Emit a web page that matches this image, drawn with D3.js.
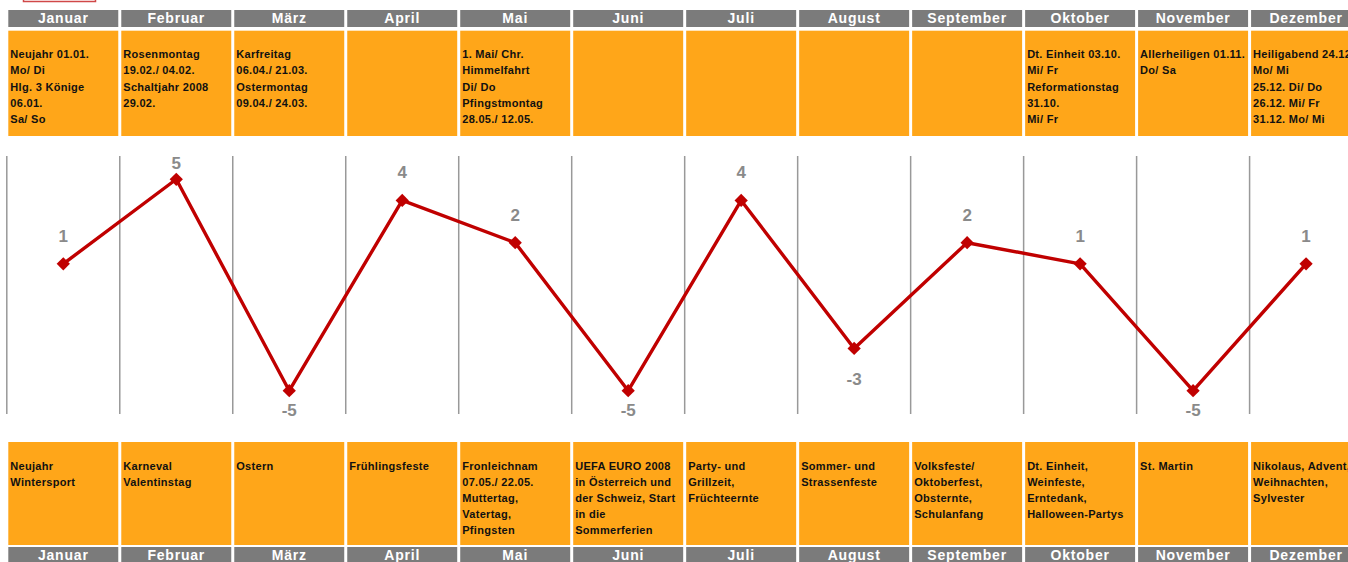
<!DOCTYPE html>
<html lang="de">
<head>
  <meta charset="UTF-8" />
  <title>Saisonkalender</title>
  <script src="https://cdn.jsdelivr.net/npm/d3@7/dist/d3.min.js"></script>
  <style>
    html, body { margin: 0; padding: 0; background: #fff; overflow: hidden; }
    svg { display: block; font-family: "Liberation Sans", Arial, sans-serif; }
  </style>
</head>
<body>
  <div id="chart"></div>
  <script>
    // Monate
    const months = ["Januar", "Februar", "März", "April", "Mai", "Juni",
      "Juli", "August", "September", "Oktober", "November", "Dezember"];

    // Werte der Kurve
    const values = [1, 5, -5, 4, 2, -5, 4, -3, 2, 1, -5, 1];

    // Feiertage (obere Kästen)
    const holidays = [
      ["Neujahr 01.01.", "Mo/ Di", "Hlg. 3 Könige", "06.01.", "Sa/ So"],
      ["Rosenmontag", "19.02./ 04.02.", "Schaltjahr 2008", "29.02."],
      ["Karfreitag", "06.04./ 21.03.", "Ostermontag", "09.04./ 24.03."],
      [],
      ["1. Mai/ Chr.", "Himmelfahrt", "Di/ Do", "Pfingstmontag", "28.05./ 12.05."],
      [],
      [],
      [],
      [],
      ["Dt. Einheit 03.10.", "Mi/ Fr", "Reformationstag", "31.10.", "Mi/ Fr"],
      ["Allerheiligen 01.11.", "Do/ Sa"],
      ["Heiligabend 24.12.", "Mo/ Mi", "25.12. Di/ Do", "26.12. Mi/ Fr", "31.12. Mo/ Mi"]
    ];

    // Anlässe (untere Kästen)
    const events = [
      ["Neujahr", "Wintersport"],
      ["Karneval", "Valentinstag"],
      ["Ostern"],
      ["Frühlingsfeste"],
      ["Fronleichnam", "07.05./ 22.05.", "Muttertag,", "Vatertag,", "Pfingsten"],
      ["UEFA EURO 2008", "in Österreich und", "der Schweiz, Start", "in die", "Sommerferien"],
      ["Party- und", "Grillzeit,", "Früchteernte"],
      ["Sommer- und", "Strassenfeste"],
      ["Volksfeste/", "Oktoberfest,", "Obsternte,", "Schulanfang"],
      ["Dt. Einheit,", "Weinfeste,", "Erntedank,", "Halloween-Partys"],
      ["St. Martin"],
      ["Nikolaus, Advent,", "Weihnachten,", "Sylvester"]
    ];

    const width = 1348, height = 562;
    const orange = "#FFA619", gray = "#7b7b7b", red = "#c00000";

    const svg = d3.select("#chart").append("svg")
      .attr("width", width).attr("height", height);

    const step = 112.73;
    const x = d3.scaleBand()
      .domain(months)
      .range([8.3, 8.3 + step * 12])
      .paddingInner(3 / step)
      .paddingOuter(0);

    const y = d3.scaleLinear().domain([-6.1, 6.1]).range([414, 156]);

    // kleiner roter Rahmen oben links
    svg.append("rect")
      .attr("x", 23.5).attr("y", -10).attr("width", 72).attr("height", 11.5)
      .attr("fill", "#fff").attr("stroke", "#d04848").attr("stroke-width", 1.5);

    const defs = svg.append("defs");

    function headerRow(top, h) {
      const g = svg.append("g");
      g.selectAll("rect").data(months).join("rect")
        .attr("x", d => x(d)).attr("y", top)
        .attr("width", x.bandwidth()).attr("height", h)
        .attr("fill", gray);
      g.selectAll("text").data(months).join("text")
        .attr("x", d => x(d) + x.bandwidth() / 2)
        .attr("y", top + 13)
        .attr("text-anchor", "middle")
        .attr("fill", "#fff")
        .attr("font-size", 14).attr("font-weight", "bold")
        .attr("letter-spacing", 0.8)
        .text(d => d);
    }

    // Kästen mit Text, Text wird am Kastenrand abgeschnitten
    function noteRow(top, h, notes, key) {
      const g = svg.append("g");
      months.forEach((m, i) => {
        const id = `clip-${key}-${i}`;
        defs.append("clipPath").attr("id", id).append("rect")
          .attr("x", x(m)).attr("y", top).attr("width", x.bandwidth()).attr("height", h);
        g.append("rect")
          .attr("x", x(m)).attr("y", top)
          .attr("width", x.bandwidth()).attr("height", h)
          .attr("fill", orange);
        const t = g.append("text")
          .attr("clip-path", `url(#${id})`)
          .attr("font-size", 11).attr("font-weight", "bold")
          .attr("letter-spacing", 0.3)
          .attr("fill", "#111");
        notes[i].forEach((line, j) => {
          t.append("tspan")
            .attr("x", x(m) + 2)
            .attr("y", top + 27.5 + j * 16.2)
            .text(line);
        });
      });
    }

    headerRow(10, 17);
    noteRow(30.7, 105.3, holidays, "top");
    noteRow(442, 103, events, "bot");
    headerRow(547, 17);

    // vertikale Trennlinien
    svg.append("g").selectAll("line").data(months).join("line")
      .attr("x1", d => x(d) - 1.5).attr("x2", d => x(d) - 1.5)
      .attr("y1", y(6.1)).attr("y2", y(-6.1))
      .attr("stroke", "#999").attr("stroke-width", 1.5);

    const cx = (d, i) => x(months[i]) + x.bandwidth() / 2;

    // Linie
    const line = d3.line()
      .x((d, i) => cx(d, i))
      .y(d => y(d));

    svg.append("path")
      .datum(values)
      .attr("d", line)
      .attr("fill", "none")
      .attr("stroke", red)
      .attr("stroke-width", 3.4)
      .attr("stroke-linejoin", "round");

    const diamond = d3.symbol().type(d3.symbolSquare).size(88);
    svg.append("g").selectAll("path").data(values).join("path")
      .attr("d", diamond)
      .attr("transform", (d, i) => `translate(${cx(d, i)},${y(d)}) rotate(45)`)
      .attr("fill", red);

    // Beschriftungen
    svg.append("g").selectAll("text").data(values).join("text")
      .attr("x", (d, i) => cx(d, i))
      .attr("y", d => d >= 0 ? Math.max(y(d) - 22, 169) : Math.min(y(d) + 37, 416))
      .attr("text-anchor", "middle")
      .attr("fill", "#8a8a8a")
      .attr("font-size", 17).attr("font-weight", "bold")
      .text(d => d);
  </script>
</body>
</html>
